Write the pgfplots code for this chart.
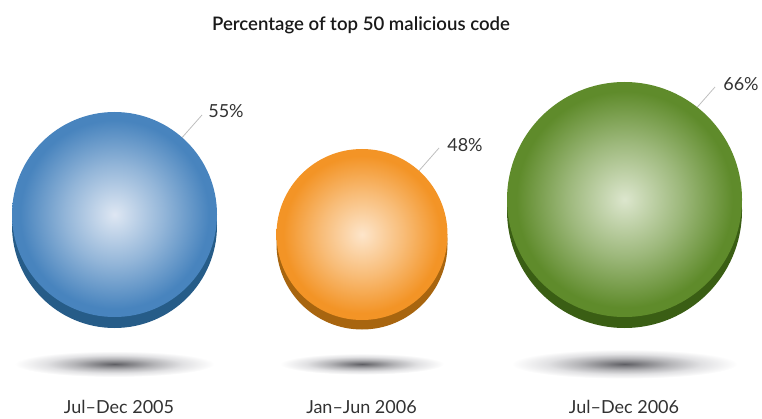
\documentclass[border=0pt]{standalone}
\usepackage{pgfplots}
\pgfplotsset{compat=1.18}
\usepackage{pgfplotstable}
\usepackage{fontspec}
\setmainfont{Lato}
\newfontfamily\titlefont{Lato Semibold}

\definecolor{txt}{RGB}{50,50,50}
\definecolor{leader}{RGB}{190,190,190}
\definecolor{bluein}{RGB}{222,231,243}
\definecolor{blueout}{RGB}{72,132,190}
\definecolor{bluebase}{RGB}{38,92,136}
\definecolor{orin}{RGB}{253,229,202}
\definecolor{orout}{RGB}{243,148,38}
\definecolor{orbase}{RGB}{168,101,15}
\definecolor{grin}{RGB}{220,230,205}
\definecolor{grout}{RGB}{95,139,43}
\definecolor{grbase}{RGB}{58,94,20}
\definecolor{sh0}{RGB}{95,95,100}
\definecolor{sh1}{RGB}{130,130,134}
\definecolor{sh2}{RGB}{180,180,183}
\definecolor{sh3}{RGB}{225,225,227}

% pgf maps the path's bounding box onto the central 50bp square: the edge is at 25bp
\pgfdeclareradialshading{blueface}{\pgfpoint{0bp}{0bp}}{color(0bp)=(bluein); color(12bp)=(bluein!50!blueout); color(23bp)=(blueout); color(25bp)=(blueout); color(50bp)=(blueout)}
\pgfdeclareradialshading{orface}{\pgfpoint{0bp}{0bp}}{color(0bp)=(orin); color(12bp)=(orin!50!orout); color(23bp)=(orout); color(25bp)=(orout); color(50bp)=(orout)}
\pgfdeclareradialshading{grface}{\pgfpoint{0bp}{0bp}}{color(0bp)=(grin); color(12bp)=(grin!50!grout); color(23bp)=(grout); color(25bp)=(grout); color(50bp)=(grout)}
\pgfdeclareradialshading{shadowsh}{\pgfpoint{0bp}{0bp}}{color(0bp)=(sh0); color(4bp)=(sh1); color(10bp)=(sh2); color(17bp)=(sh3); color(25bp)=(white); color(50bp)=(white)}

\pgfdeclareplotmark{blueface}{\pgfpathcircle{\pgfpointorigin}{\pgfplotmarksize}\pgfshadepath{blueface}{0}\pgfusepath{}}
\pgfdeclareplotmark{orface}{\pgfpathcircle{\pgfpointorigin}{\pgfplotmarksize}\pgfshadepath{orface}{0}\pgfusepath{}}
\pgfdeclareplotmark{grface}{\pgfpathcircle{\pgfpointorigin}{\pgfplotmarksize}\pgfshadepath{grface}{0}\pgfusepath{}}
\pgfdeclareplotmark{bluebase}{\pgfpathcircle{\pgfpointorigin}{\pgfplotmarksize}\pgfsetfillcolor{bluebase}\pgfusepath{fill}}
\pgfdeclareplotmark{orbase}{\pgfpathcircle{\pgfpointorigin}{\pgfplotmarksize}\pgfsetfillcolor{orbase}\pgfusepath{fill}}
\pgfdeclareplotmark{grbase}{\pgfpathcircle{\pgfpointorigin}{\pgfplotmarksize}\pgfsetfillcolor{grbase}\pgfusepath{fill}}
\pgfdeclareplotmark{shadowmark}{\pgfpathellipse{\pgfpointorigin}{\pgfqpoint{\pgfplotmarksize}{0pt}}{\pgfqpoint{0pt}{0.13\pgfplotmarksize}}\pgfshadepath{shadowsh}{0}\pgfusepath{}}

% x y: sphere centre (px, y up); r: radius; by: centre of the darker base; sy, sr: shadow
\pgfplotstableread{
x y r by sy sr val lx ly
114.5 203.5 102.5 192.5 54 100 55 226 307
}\bluedata
\pgfplotstableread{
x y r by sy sr val lx ly
362 183.5 85.5 174 54 82 48 465 273
}\ordata
\pgfplotstableread{
x y r by sy sr val lx ly
624.5 218.5 117.5 207.5 54 113 66 741 334
}\grdata

\pgfplotsset{
  sphere/.style={scatter, only marks,
    visualization depends on={\thisrow{r}\as\rad},
    scatter/@pre marker code/.append style={/tikz/mark size=\rad}},
  shadow/.style={scatter, only marks, mark=shadowmark,
    visualization depends on={\thisrow{sr}\as\srad},
    scatter/@pre marker code/.append style={/tikz/mark size=\srad}},
  pct/.style={only marks, mark=none, point meta=explicit,
    nodes near coords={\pgfmathprintnumber{\pgfplotspointmeta}\%},
    every node near coord/.style={anchor=center, inner sep=0pt, text=txt, font=\fontsize{18}{20}\selectfont}},
}

\begin{document}
\begin{tikzpicture}
\begin{axis}[
  x=1pt, y=1pt, xmin=0, xmax=762, ymin=0, ymax=418,
  hide axis, clip=false,
  /pgf/number format/assume math mode=true,
]
% shadows
\addplot[shadow] table[x=x, y=sy] \bluedata;
\addplot[shadow] table[x=x, y=sy] \ordata;
\addplot[shadow] table[x=x, y=sy] \grdata;
% bases
\addplot[sphere, mark=bluebase] table[x=x, y=by] \bluedata;
\addplot[sphere, mark=orbase] table[x=x, y=by] \ordata;
\addplot[sphere, mark=grbase] table[x=x, y=by] \grdata;
% faces
\addplot[sphere, mark=blueface] table[x=x, y=y] \bluedata;
\addplot[sphere, mark=orface] table[x=x, y=y] \ordata;
\addplot[sphere, mark=grface] table[x=x, y=y] \grdata;
% leader lines
\addplot[leader, line width=0.8pt] coordinates {(172,269) (202,303)};
\addplot[leader, line width=0.8pt] coordinates {(410,237) (439,270)};
\addplot[leader, line width=0.8pt] coordinates {(686,298) (715,331)};
% value labels
\addplot[pct] table[x=lx, y=ly, meta=val] \bluedata;
\addplot[pct] table[x=lx, y=ly, meta=val] \ordata;
\addplot[pct] table[x=lx, y=ly, meta=val] \grdata;
% category labels and title
\node[anchor=base, text=txt, font=\fontsize{18}{20}\selectfont, inner sep=0pt] at (axis cs:119,5) {Jul--Dec 2005};
\node[anchor=base, text=txt, font=\fontsize{18}{20}\selectfont, inner sep=0pt] at (axis cs:361.5,5) {Jan--Jun 2006};
\node[anchor=base, text=txt, font=\fontsize{18}{20}\selectfont, inner sep=0pt] at (axis cs:624,5) {Jul--Dec 2006};
\node[anchor=base, text=black!90, font=\titlefont\fontsize{18.6}{20}\selectfont, inner sep=0pt] at (axis cs:361,387) {Percentage of top 50 malicious code};
\end{axis}
\pgfresetboundingbox
\useasboundingbox (0,0) rectangle (762pt,418pt);
\end{tikzpicture}
\end{document}
